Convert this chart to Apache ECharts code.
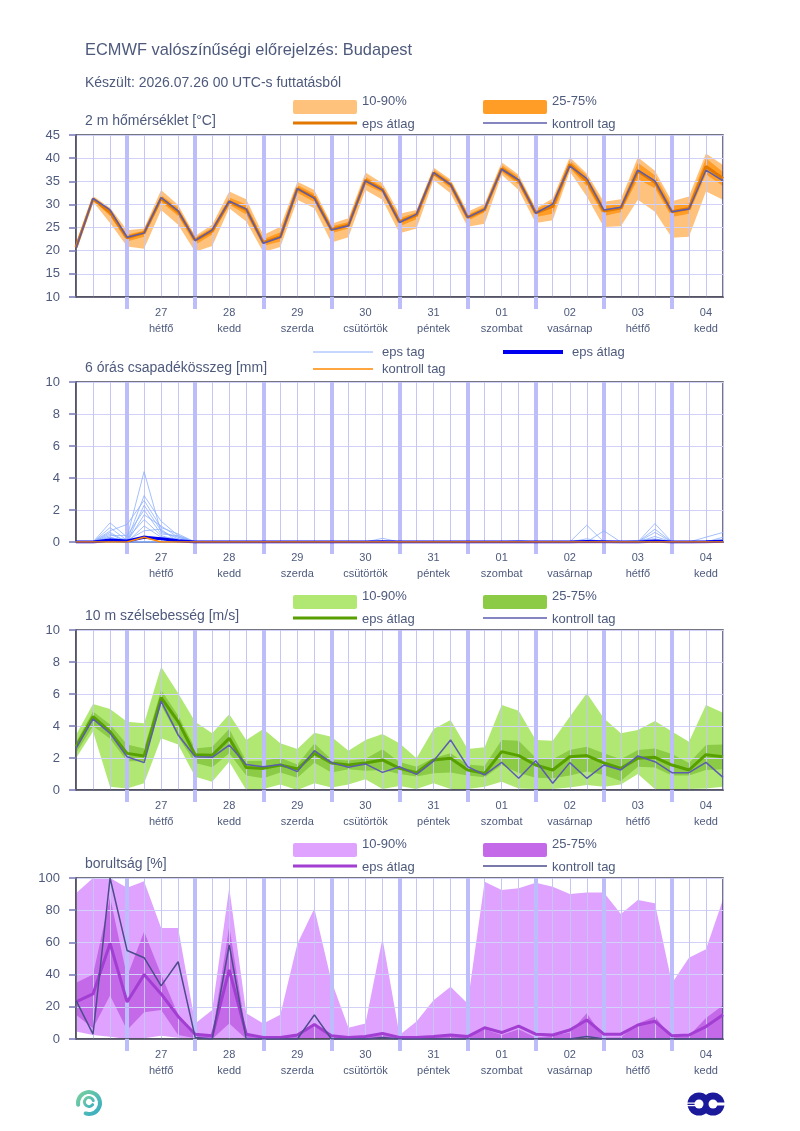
<!DOCTYPE html>
<html>
<head>
<meta charset="utf-8">
<script src="https://cdn.jsdelivr.net/npm/echarts@6/dist/echarts.min.js"></script>
<style>
html, body { margin: 0; padding: 0; background: #fff; }
#chart { width: 800px; height: 1131px; }
</style>
</head>
<body>
<div id="chart"></div>
<script>
// idősor: 2026.07.26 06 UTC - 08.04 18 UTC, 6 óránként
var dayNums = ['26', '27', '28', '29', '30', '31', '01', '02', '03', '04'];
var dayNames = ['vasárnap', 'hétfő', 'kedd', 'szerda', 'csütörtök', 'péntek', 'szombat', 'vasárnap', 'hétfő', 'kedd'];
var hours = ['00', '06', '12', '18'];

// 2 m hőmérséklet
var t10 = [20.0, 30.6, 26.0, 20.9, 20.4, 28.8, 25.6, 19.8, 21.0, 29.2, 26.3, 19.7, 20.8, 31.0, 29.2, 21.8, 22.9, 33.1, 31.0, 23.8, 24.8, 35.3, 32.4, 25.2, 25.8, 36.4, 33.1, 26.0, 26.6, 37.1, 31.7, 25.1, 25.3, 31.0, 28.4, 22.8, 23.0, 32.8, 31.0];
var t90 = [21.5, 31.8, 29.3, 24.4, 24.8, 33.1, 29.9, 23.2, 25.6, 32.8, 31.1, 23.4, 25.2, 34.9, 33.1, 25.8, 27.0, 36.9, 34.6, 28.0, 28.8, 38.0, 35.4, 28.4, 30.1, 39.1, 36.4, 29.2, 31.3, 40.2, 36.7, 30.6, 31.1, 40.2, 37.3, 30.7, 31.7, 41.0, 38.5];
var t25 = [20.3, 30.9, 27.5, 22.0, 23.0, 30.5, 27.5, 21.3, 23.5, 30.0, 27.8, 21.0, 22.0, 32.5, 30.5, 23.8, 24.8, 34.3, 32.5, 25.3, 26.8, 36.3, 33.5, 26.5, 28.3, 37.0, 34.3, 27.3, 28.0, 37.8, 34.0, 27.5, 28.3, 35.5, 33.5, 27.3, 28.0, 36.5, 34.0];
var t75 = [21.0, 31.5, 29.0, 23.5, 24.3, 32.0, 29.3, 22.8, 25.0, 31.5, 30.0, 22.5, 24.0, 34.2, 32.3, 25.3, 26.2, 36.0, 33.8, 27.0, 28.3, 37.5, 35.0, 27.8, 29.5, 38.5, 35.9, 28.9, 30.7, 39.5, 36.2, 29.7, 30.0, 39.0, 36.3, 29.7, 30.2, 40.0, 37.0];
var tMean = [20.7, 31.2, 28.3, 22.8, 23.9, 31.3, 28.4, 22.3, 24.3, 30.6, 28.9, 21.8, 23.0, 33.4, 31.5, 24.6, 25.5, 35.2, 33.2, 26.3, 27.7, 36.8, 34.3, 27.2, 28.9, 37.7, 35.1, 28.2, 29.6, 38.6, 35.1, 28.6, 29.2, 37.2, 34.8, 28.4, 29.1, 38.2, 35.6];
var tCtrl = [20.5, 31.3, 28.8, 22.9, 23.8, 31.5, 28.6, 22.2, 24.5, 30.7, 29.0, 21.6, 22.9, 33.4, 31.3, 24.5, 25.4, 35.1, 33.1, 26.1, 27.9, 36.9, 34.3, 27.2, 29.0, 37.6, 35.3, 28.1, 30.1, 38.3, 35.6, 28.8, 29.4, 37.4, 35.1, 28.4, 29.0, 37.4, 35.1];

// 6 órás csapadék - ensemble tagok (a csupa nulla tagok nem látszanak)
var pMembers = [
  [0, 0, 1.2, 0.3, 4.4, 0.6, 0.3, 0, 0, 0, 0, 0, 0, 0, 0, 0, 0, 0, 0, 0, 0, 0, 0, 0, 0, 0, 0, 0, 0, 0, 0, 0, 0, 0, 0, 0, 0, 0, 0],
  [0, 0, 0.9, 0.1, 2.9, 1.3, 0.4, 0, 0, 0, 0, 0, 0, 0, 0, 0, 0, 0, 0, 0, 0, 0, 0, 0, 0, 0, 0, 0, 0, 0, 0, 0, 0, 0, 0, 0, 0, 0, 0],
  [0, 0, 0.7, 1.1, 2.6, 0.9, 0.5, 0, 0, 0, 0, 0, 0, 0, 0, 0, 0, 0, 0, 0, 0, 0, 0, 0, 0, 0, 0, 0, 0, 0, 0, 0, 0, 0, 0, 0, 0, 0, 0],
  [0, 0, 0.5, 0, 2.3, 0.7, 0.2, 0, 0, 0, 0, 0, 0, 0, 0, 0, 0, 0, 0, 0, 0, 0, 0, 0, 0, 0, 0, 0, 0, 0, 0, 0, 0, 0, 0, 0, 0, 0, 0],
  [0, 0, 0.4, 0.4, 2.0, 0.5, 0.4, 0, 0, 0, 0, 0, 0, 0, 0, 0, 0, 0, 0, 0, 0, 0, 0, 0, 0, 0, 0, 0, 0, 0, 0, 0, 0, 0, 0, 0, 0, 0, 0],
  [0, 0, 0.3, 0, 1.7, 1.0, 0.3, 0, 0, 0, 0, 0, 0, 0, 0, 0, 0, 0, 0, 0, 0, 0, 0, 0, 0, 0, 0, 0, 0, 0, 0, 0, 0, 0, 0, 0, 0, 0, 0],
  [0, 0, 0.2, 0.2, 1.4, 0.4, 0.1, 0, 0, 0, 0, 0, 0, 0, 0, 0, 0, 0, 0, 0, 0, 0, 0, 0, 0, 0, 0, 0, 0, 0, 0, 0, 0, 0, 0, 0, 0, 0, 0],
  [0, 0, 0.6, 0, 1.0, 0.3, 0.2, 0, 0, 0, 0, 0, 0, 0, 0, 0, 0, 0, 0, 0, 0, 0, 0, 0, 0, 0, 0, 0, 0, 0, 0, 0, 0, 0, 0, 0, 0, 0, 0],
  [0, 0, 0.1, 0.1, 0.7, 0.8, 0, 0, 0, 0, 0, 0, 0, 0, 0, 0, 0, 0, 0, 0, 0, 0, 0, 0, 0, 0, 0, 0, 0, 0, 0, 0, 0, 0, 0, 0, 0, 0, 0],
  [0, 0, 0.3, 0, 0.4, 0.2, 0.1, 0, 0, 0, 0, 0, 0, 0, 0, 0, 0, 0, 0, 0, 0, 0, 0, 0, 0, 0, 0, 0, 0, 0, 0, 0, 0, 0, 0, 0, 0, 0, 0],
  [0, 0, 0, 0, 0, 0, 0, 0, 0, 0, 0, 0, 0, 0, 0, 0, 0, 0, 0.23, 0, 0, 0, 0, 0, 0, 0, 0, 0, 0, 0, 1.05, 0, 0, 0, 1.15, 0, 0, 0, 0],
  [0, 0, 0, 0, 0, 0, 0, 0, 0, 0, 0, 0, 0, 0, 0, 0, 0, 0, 0, 0, 0, 0, 0, 0, 0, 0, 0, 0, 0, 0, 0, 0.7, 0, 0, 0.8, 0, 0, 0, 0],
  [0, 0, 0, 0, 0, 0, 0, 0, 0, 0, 0, 0, 0, 0, 0, 0, 0, 0, 0, 0, 0, 0, 0, 0, 0, 0, 0.1, 0, 0, 0, 0, 0, 0, 0, 0.6, 0, 0, 0.3, 0.6],
  [0, 0, 0, 0, 0, 0, 0, 0, 0, 0, 0, 0, 0, 0, 0, 0, 0, 0, 0, 0, 0, 0, 0, 0, 0, 0, 0, 0, 0, 0, 0.2, 0, 0, 0, 0.35, 0, 0, 0, 0.3],
  [0, 0, 0, 0, 0, 0, 0, 0, 0, 0, 0, 0, 0, 0, 0, 0, 0, 0, 0, 0, 0, 0, 0, 0, 0, 0, 0, 0, 0, 0, 0, 0, 0, 0.1, 0.2, 0, 0, 0.05, 0.15]
];
var pMean = [0, 0, 0.12, 0.06, 0.3, 0.2, 0.08, 0, 0, 0, 0, 0, 0, 0, 0, 0, 0, 0, 0.01, 0, 0, 0, 0, 0, 0, 0, 0, 0, 0, 0, 0.03, 0.02, 0, 0, 0.06, 0, 0, 0.01, 0.04];
var pCtrl = [0, 0, 0, 0, 0.3, 0, 0, 0, 0, 0, 0, 0, 0, 0, 0, 0, 0, 0, 0, 0, 0, 0, 0, 0, 0, 0, 0, 0, 0, 0, 0, 0, 0, 0, 0, 0, 0, 0, 0];

// 10 m szélsebesség
var w10 = [1.98, 3.65, 0.21, 0.1, 0.42, 3.23, 2.85, 0.83, 0.52, 1.77, 0, 0.06, 0.35, 0, 0.42, 0.15, 0.35, 0.67, 0.06, 0.25, 0.06, 0.42, 0.06, 0.06, 0.21, 0.52, 0.1, 0.06, 0.06, 0.15, 0.31, 0.21, 0.35, 1.0, 0.06, 0.06, 0.06, 0.1, 0.21];
var w90 = [3.44, 5.38, 5.06, 4.27, 4.17, 7.71, 6.04, 4.27, 3.54, 4.73, 3.13, 3.81, 2.92, 2.56, 3.58, 3.33, 2.46, 3.13, 3.5, 2.92, 1.98, 3.81, 4.38, 2.56, 2.67, 5.31, 4.96, 3.13, 3.08, 4.58, 6.04, 4.48, 3.54, 3.75, 4.31, 3.65, 3.02, 5.31, 4.83];
var w25 = [2.3, 4.0, 3.2, 1.8, 1.8, 5.3, 3.33, 1.69, 1.42, 2.29, 0.9, 0.73, 1.1, 0.77, 1.7, 1.1, 1.3, 1.2, 1.25, 1.0, 0.85, 1.05, 1.1, 0.9, 0.8, 1.56, 1.06, 0.77, 0.73, 0.9, 1.15, 0.94, 0.56, 1.46, 1.4, 0.9, 0.9, 1.25, 1.29];
var w75 = [3.0, 4.9, 4.1, 2.85, 2.6, 6.25, 4.65, 2.6, 2.71, 3.81, 1.81, 1.83, 2.02, 1.6, 2.9, 1.9, 1.85, 1.95, 2.55, 1.75, 1.45, 2.0, 2.3, 1.6, 1.5, 3.13, 3.08, 2.02, 1.92, 2.5, 2.71, 2.29, 1.92, 2.5, 2.6, 2.25, 1.69, 2.81, 2.85];
var wMean = [2.7, 4.58, 3.65, 2.29, 2.13, 5.77, 4.27, 2.2, 2.17, 3.23, 1.4, 1.35, 1.56, 1.31, 2.29, 1.69, 1.56, 1.69, 1.88, 1.35, 1.08, 1.88, 1.98, 1.25, 1.04, 2.4, 2.15, 1.56, 1.25, 2.08, 2.15, 1.69, 1.35, 1.98, 2.04, 1.56, 1.25, 2.21, 2.08];
var wCtrl = [2.6, 4.44, 3.54, 2.08, 1.71, 5.56, 3.44, 2.08, 2.04, 2.81, 1.6, 1.46, 1.6, 1.15, 2.46, 1.71, 1.42, 1.63, 1.1, 1.45, 0.98, 1.81, 3.13, 1.46, 0.94, 1.73, 0.73, 1.83, 0.42, 1.71, 0.73, 1.56, 1.25, 2.13, 1.77, 1.08, 1.08, 1.73, 0.79];

// borultság
var c10 = [4.6, 2.5, 1.4, 0, 0.4, 2, 0.8, 0, 0, 0, 0, 0, 0, 0, 0, 0, 0, 0, 0, 0, 0, 0, 0, 0, 0, 0, 0, 0, 0, 0, 0, 0, 0, 0, 0, 0, 0, 0, 0];
var c90 = [90.5, 100, 100, 94, 98, 69, 69, 9.7, 18, 94, 16, 9.7, 15, 59, 81, 36, 7, 9.7, 62.5, 2.5, 10.8, 24, 32.5, 22, 97.7, 92.5, 93.6, 97, 94.6, 90, 91, 91, 77.6, 86.3, 84.3, 34.6, 50.5, 55.7, 86.7];
var c25 = [15, 6.6, 27, 5.6, 16.6, 18, 2.5, 0.5, 0, 9.7, 0, 0, 0, 0, 0, 0, 0, 0, 0, 0, 0, 0, 0, 0, 0, 0, 0, 0, 0, 0, 1, 0, 0, 0, 0, 0, 0, 0, 0];
var c75 = [35, 40, 88, 38.7, 66.7, 40, 15, 3, 2.5, 70, 3.5, 1, 1, 2, 10, 2, 1, 1, 4, 1, 1, 1.5, 2.5, 1.5, 6, 2.5, 6, 1, 2, 4, 16, 1, 1, 9.7, 13.9, 1, 2, 13, 21];
var cMean = [23, 28, 59.4, 23, 40, 28, 14, 3, 2, 43, 3, 1, 1, 2.5, 9, 2, 1, 1.5, 3.5, 1, 1, 1.5, 2.5, 1.5, 7, 4, 8, 3, 2.5, 5.6, 11.8, 3, 3, 8.7, 11, 2, 2.5, 7.7, 15];
var cCtrl = [24, 3, 100, 55, 50.5, 33, 48, 1, 0, 58.4, 0, 0, 0, 0, 15, 0, 0, 0, 1, 0, 0, 0, 0, 0, 0, 0, 0, 0, 0, 0, 1.5, 0, 0, 0, 0, 0, 0, 0, 0];

// kategóriák: "nap|óra"
var times = [];
dayNums.forEach(function(d, di) {
	hours.forEach(function(h) {
		if (di === 0 && h === '00') return;
		times.push(d + '|' + h);
	});
});

var FONT = '"Liberation Sans", Arial, sans-serif';
var TXT = '#4e5a7c';
var BOX = '#4a4a58';

var panels = [
	{ top: 135, height: 162, min: 10, max: 45, interval: 5 },
	{ top: 382, height: 160, min: 0, max: 10, interval: 2 },
	{ top: 630, height: 160, min: 0, max: 10, interval: 2 },
	{ top: 878, height: 161, min: 0, max: 100, interval: 20 }
];

function isMidnight(i, v) { return v.split('|')[1] === '00'; }
function isNoon(i, v) { var p = v.split('|'); return p[1] === '12' && p[0] !== '26'; }

var grids = [], xAxes = [], yAxes = [], series = [];

panels.forEach(function(p, k) {
	grids.push({
		left: 76, width: 647, top: p.top, height: p.height,
		show: true, borderColor: BOX, borderWidth: 1.5, backgroundColor: 'transparent', z: 3
	});
	xAxes.push({
		type: 'category', gridIndex: k, data: times, boundaryGap: false, position: 'bottom', z: 3,
		axisLine: { lineStyle: { color: BOX, width: 1.5 } },
		axisTick: { show: false },
		axisLabel: { show: false },
		splitLine: { show: true, interval: 0, lineStyle: { color: '#c6c6f6', width: 1 } }
	});
	xAxes.push({
		type: 'category', gridIndex: k, data: times, boundaryGap: false, position: 'bottom', z: 3,
		axisLine: { show: false },
		axisTick: { show: true, interval: isMidnight, length: 12, lineStyle: { color: '#bdbdfb', width: 4 } },
		splitLine: { show: true, interval: isMidnight, lineStyle: { color: '#bdbdfb', width: 4 } },
		axisLabel: {
			interval: isNoon, margin: 8, color: TXT, fontFamily: FONT, fontSize: 11, lineHeight: 16,
			formatter: function(v) {
				var d = v.split('|')[0];
				return d + '\n' + dayNames[dayNums.indexOf(d)];
			}
		}
	});
	yAxes.push({
		type: 'value', gridIndex: k, min: p.min, max: p.max, interval: p.interval, z: 3,
		axisLine: { show: true, lineStyle: { color: BOX, width: 1.5 } },
		axisTick: { show: true, length: 7, lineStyle: { color: '#7878b8', width: 1.5 } },
		splitLine: { show: true, lineStyle: { color: '#d2d2f8', width: 1 } },
		axisLabel: { margin: 16, color: TXT, fontFamily: FONT, fontSize: 13 }
	});
});

function band(k, lo, hi, color, name) {
	series.push({
		type: 'line', xAxisIndex: 2 * k, yAxisIndex: k, data: lo, stack: name,
		symbol: 'none', lineStyle: { opacity: 0 }, silent: true, z: 1
	});
	series.push({
		type: 'line', xAxisIndex: 2 * k, yAxisIndex: k, stack: name,
		data: hi.map(function(v, i) { return +(v - lo[i]).toFixed(3); }),
		symbol: 'none', lineStyle: { opacity: 0 }, areaStyle: { color: color, opacity: 1 }, silent: true, z: 1
	});
}

function line(k, data, color, width, z) {
	series.push({
		type: 'line', xAxisIndex: 2 * k, yAxisIndex: k, data: data,
		symbol: 'none', lineStyle: { color: color, width: width }, silent: true, z: z || 5
	});
}

// hőmérséklet
band(0, t10, t90, '#ffc27c', 't1090');
band(0, t25, t75, '#ff9d26', 't2575');
line(0, tMean, '#e27800', 3);
line(0, tCtrl, '#5c5caa', 1.5, 6);

// csapadék
pMembers.forEach(function(m) { line(1, m, '#8db0ff', 0.8, 4); });
line(1, pMean, '#0000f0', 3);
line(1, pCtrl, '#ff8800', 1.5, 6);

// szél
band(2, w10, w90, '#b1e874', 'w1090');
band(2, w25, w75, '#8bcb45', 'w2575');
line(2, wMean, '#58a000', 3);
line(2, wCtrl, '#5c5cb0', 1.5, 6);

// borultság
band(3, c10, c90, '#dfa2ff', 'c1090');
band(3, c25, c75, '#c46ae8', 'c2575');
line(3, cMean, '#a23fd2', 3);
line(3, cCtrl, '#4c4c8c', 1.5, 6);

// feliratok és jelmagyarázat
function text(x, y, s, size) {
	return { type: 'text', x: x, y: y, z: 10, style: { text: s, fill: TXT, font: size + 'px ' + FONT, verticalAlign: 'middle' } };
}
function rect(x, y, c) {
	return { type: 'rect', z: 10, shape: { x: x, y: y, width: 64, height: 14, r: 2 }, style: { fill: c } };
}
function seg(x, y, c, w, len) {
	return { type: 'line', z: 10, shape: { x1: x, y1: y, x2: x + (len || 64), y2: y }, style: { stroke: c, lineWidth: w } };
}

var graphics = [
	text(85, 50, 'ECMWF valószínűségi előrejelzés: Budapest', 16.4),
	text(85, 83, 'Készült: 2026.07.26 00 UTC-s futtatásból', 14)
];

function bandLegend(top, title, c1, c2, cm, cc) {
	graphics.push(text(85, top - 14, title, 14));
	graphics.push(rect(293, top - 35, c1), text(362, top - 34, '10-90%', 13));
	graphics.push(rect(483, top - 35, c2), text(552, top - 34, '25-75%', 13));
	graphics.push(seg(293, top - 12, cm, 3), text(362, top - 11, 'eps átlag', 13));
	graphics.push(seg(483, top - 12, cc, 1.5), text(552, top - 11, 'kontroll tag', 13));
}

bandLegend(135, '2 m hőmérséklet [°C]', '#ffc27c', '#ff9d26', '#e27800', '#5c5caa');
graphics.push(text(85, 368, '6 órás csapadékösszeg [mm]', 14));
graphics.push(seg(313, 352, '#8db0ff', 1, 60), text(382, 352, 'eps tag', 13));
graphics.push(seg(503, 352, '#0000f0', 4, 60), text(572, 352, 'eps átlag', 13));
graphics.push(seg(313, 369, '#ff8800', 1.5, 60), text(382, 369, 'kontroll tag', 13));
bandLegend(630, '10 m szélsebesség [m/s]', '#b1e874', '#8bcb45', '#58a000', '#5c5cb0');
bandLegend(878, 'borultság [%]', '#dfa2ff', '#c46ae8', '#a23fd2', '#4c4c8c');

// logók
var swirl = { type: 'linear', x: 0, y: 0, x2: 1, y2: 1, colorStops: [{ offset: 0, color: '#7fd39a' }, { offset: 1, color: '#2fa8c8' }] };
graphics.push(
	{ type: 'arc', z: 10, shape: { cx: 89, cy: 1103, r: 11, startAngle: Math.PI * 0.95, endAngle: Math.PI * 0.6, clockwise: true }, style: { stroke: swirl, lineWidth: 4, fill: null, lineCap: 'round' } },
	{ type: 'arc', z: 10, shape: { cx: 89, cy: 1102, r: 4.5, startAngle: Math.PI * 0.2, endAngle: Math.PI * 1.9, clockwise: true }, style: { stroke: swirl, lineWidth: 3, fill: null, lineCap: 'round' } },
	{ type: 'circle', z: 10, shape: { cx: 699, cy: 1104, r: 11.5 }, style: { fill: '#1a1a9a' } },
	{ type: 'circle', z: 10, shape: { cx: 713, cy: 1104, r: 11.5 }, style: { fill: '#1a1a9a' } },
	{ type: 'circle', z: 11, shape: { cx: 699, cy: 1104, r: 4.5 }, style: { fill: '#fff' } },
	{ type: 'circle', z: 11, shape: { cx: 713, cy: 1104, r: 4.5 }, style: { fill: '#fff' } },
	{ type: 'rect', z: 11, shape: { x: 686, y: 1102.5, width: 13, height: 1.2 }, style: { fill: '#fff' } },
	{ type: 'rect', z: 11, shape: { x: 686, y: 1105, width: 13, height: 1.2 }, style: { fill: '#fff' } },
	{ type: 'rect', z: 11, shape: { x: 713, y: 1102.5, width: 14, height: 3 }, style: { fill: '#fff' } }
);

var chart = echarts.init(document.getElementById('chart'), null, { renderer: 'canvas' });
chart.setOption({
	animation: false,
	backgroundColor: '#fff',
	grid: grids,
	xAxis: xAxes,
	yAxis: yAxes,
	series: series,
	graphic: graphics
});
window.addEventListener('resize', function() { chart.resize(); });
</script>
</body>
</html>
